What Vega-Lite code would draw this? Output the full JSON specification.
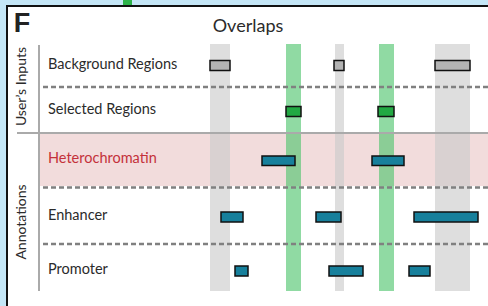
{
  "$schema": "https://vega.github.io/schema/vega-lite/v6.json",
  "width": 448,
  "height": 247,
  "autosize": {"type": "none"},
  "padding": {"left": 40, "top": 44, "right": 0, "bottom": 15},
  "background": "#c4e6f6",
  "config": {"view": {"stroke": null}, "text": {"font": "Lato"}},
  "datasets": {
    "frame": [{"x": -33, "x2": 470, "y": -38, "y2": 290}],
    "stub": [{"x": 83, "x2": 92, "y": -44, "y2": -39}],
    "pink": [{"x": 0, "x2": 448, "y": 90, "y2": 142}],
    "bands": [
      {"kind": "Background", "x": 170, "x2": 190},
      {"kind": "Background", "x": 295, "x2": 304},
      {"kind": "Background", "x": 395, "x2": 430},
      {"kind": "Selected", "x": 246, "x2": 261},
      {"kind": "Selected", "x": 339, "x2": 354}
    ],
    "dashes": [{"y": 43}, {"y": 143.5}, {"y": 200}],
    "bars": [
      {"track": "Background", "x": 170, "x2": 190, "y": 16.5, "y2": 26.5},
      {"track": "Background", "x": 294, "x2": 304, "y": 16.5, "y2": 26.5},
      {"track": "Background", "x": 395, "x2": 430, "y": 16.5, "y2": 26.5},
      {"track": "Selected", "x": 246, "x2": 261, "y": 62.5, "y2": 72.5},
      {"track": "Selected", "x": 338, "x2": 354, "y": 62.5, "y2": 72.5},
      {"track": "Annotation", "x": 222, "x2": 255, "y": 112, "y2": 121.5},
      {"track": "Annotation", "x": 332, "x2": 364, "y": 112, "y2": 121.5},
      {"track": "Annotation", "x": 181, "x2": 203, "y": 168, "y2": 178},
      {"track": "Annotation", "x": 276, "x2": 301, "y": 168, "y2": 178},
      {"track": "Annotation", "x": 374, "x2": 438, "y": 168, "y2": 178},
      {"track": "Annotation", "x": 195, "x2": 208, "y": 222, "y2": 232},
      {"track": "Annotation", "x": 289, "x2": 323, "y": 222, "y2": 232},
      {"track": "Annotation", "x": 369, "x2": 390, "y": 222, "y2": 232}
    ],
    "labels": [
      {"label": "Background Regions", "y": 20.5},
      {"label": "Selected Regions", "y": 65.5},
      {"label": "Heterochromatin", "y": 115},
      {"label": "Enhancer", "y": 171.5},
      {"label": "Promoter", "y": 225.5}
    ],
    "groups": [
      {"label": "User’s Inputs", "y": 42.5},
      {"label": "Annotations", "y": 178}
    ]
  },
  "layer": [
    {
      "data": {"name": "frame"},
      "mark": {"type": "rect", "fill": "white", "stroke": "#111111", "strokeWidth": 2},
      "encoding": {
        "x": {"field": "x", "type": "quantitative", "scale": {"domain": [0, 448], "nice": false, "zero": false}, "axis": null},
        "x2": {"field": "x2"},
        "y": {"field": "y", "type": "quantitative", "scale": {"domain": [0, 247], "reverse": true, "nice": false, "zero": false}, "axis": null},
        "y2": {"field": "y2"}
      }
    },
    {
      "data": {"name": "stub"},
      "mark": {"type": "rect", "fill": "#2db34a"},
      "encoding": {
        "x": {"field": "x", "type": "quantitative"},
        "x2": {"field": "x2"},
        "y": {"field": "y", "type": "quantitative"},
        "y2": {"field": "y2"}
      }
    },
    {
      "data": {"name": "pink"},
      "mark": {"type": "rect", "fill": "#f2dcdc"},
      "encoding": {
        "x": {"field": "x", "type": "quantitative"},
        "x2": {"field": "x2"},
        "y": {"field": "y", "type": "quantitative"},
        "y2": {"field": "y2"}
      }
    },
    {
      "data": {"name": "bands"},
      "mark": {"type": "rect", "y": 0, "y2": {"expr": "height"}},
      "encoding": {
        "x": {"field": "x", "type": "quantitative"},
        "x2": {"field": "x2"},
        "color": {"field": "kind", "type": "nominal", "scale": {"domain": ["Background", "Selected"], "range": ["#c9caca", "#4cc46a"]}, "legend": null},
        "opacity": {"value": 0.62}
      }
    },
    {
      "data": {"values": [{"x": -23, "x2": 448, "y": 89}]},
      "mark": {"type": "rule", "color": "#aaaaaa", "strokeWidth": 2},
      "encoding": {
        "x": {"field": "x", "type": "quantitative"},
        "x2": {"field": "x2"},
        "y": {"field": "y", "type": "quantitative"}
      }
    },
    {
      "data": {"values": [{"x": -1, "y": 1, "y2": 247}]},
      "mark": {"type": "rule", "color": "#aaaaaa", "strokeWidth": 2},
      "encoding": {
        "x": {"field": "x", "type": "quantitative"},
        "y": {"field": "y", "type": "quantitative"},
        "y2": {"field": "y2"}
      }
    },
    {
      "data": {"name": "dashes"},
      "mark": {"type": "rule", "color": "#808080", "strokeWidth": 2.5, "strokeDash": [5, 3]},
      "encoding": {
        "y": {"field": "y", "type": "quantitative"}
      }
    },
    {
      "data": {"name": "bars"},
      "mark": {"type": "rect", "stroke": "#111111", "strokeWidth": 1.5},
      "encoding": {
        "x": {"field": "x", "type": "quantitative"},
        "x2": {"field": "x2"},
        "y": {"field": "y", "type": "quantitative"},
        "y2": {"field": "y2"},
        "fill": {"field": "track", "type": "nominal", "scale": {"domain": ["Background", "Selected", "Annotation"], "range": ["#b3b3b3", "#22a843", "#17809c"]}, "legend": null}
      }
    },
    {
      "data": {"name": "labels"},
      "mark": {"type": "text", "align": "left", "baseline": "middle", "fontSize": 14.5, "x": 8},
      "encoding": {
        "y": {"field": "y", "type": "quantitative"},
        "text": {"field": "label"},
        "color": {"condition": {"test": "datum.label === 'Heterochromatin'", "value": "#c4313a"}, "value": "#2b2b2b"}
      }
    },
    {
      "data": {"name": "groups"},
      "mark": {"type": "text", "align": "center", "baseline": "middle", "fontSize": 14, "angle": 270, "color": "#2b2b2b"},
      "encoding": {
        "x": {"datum": -18, "type": "quantitative"},
        "y": {"field": "y", "type": "quantitative"},
        "text": {"field": "label"}
      }
    },
    {
      "data": {"values": [{"t": "F", "x": -18, "y": -20}]},
      "mark": {"type": "text", "align": "center", "baseline": "middle", "fontSize": 27, "fontWeight": "bold", "color": "#222222", "font": "Liberation Sans"},
      "encoding": {
        "x": {"field": "x", "type": "quantitative"},
        "y": {"field": "y", "type": "quantitative"},
        "text": {"field": "t"}
      }
    },
    {
      "data": {"values": [{"t": "Overlaps", "x": 208, "y": -17}]},
      "mark": {"type": "text", "align": "center", "baseline": "middle", "fontSize": 18, "color": "#2b2b2b"},
      "encoding": {
        "x": {"field": "x", "type": "quantitative"},
        "y": {"field": "y", "type": "quantitative"},
        "text": {"field": "t"}
      }
    }
  ]
}
